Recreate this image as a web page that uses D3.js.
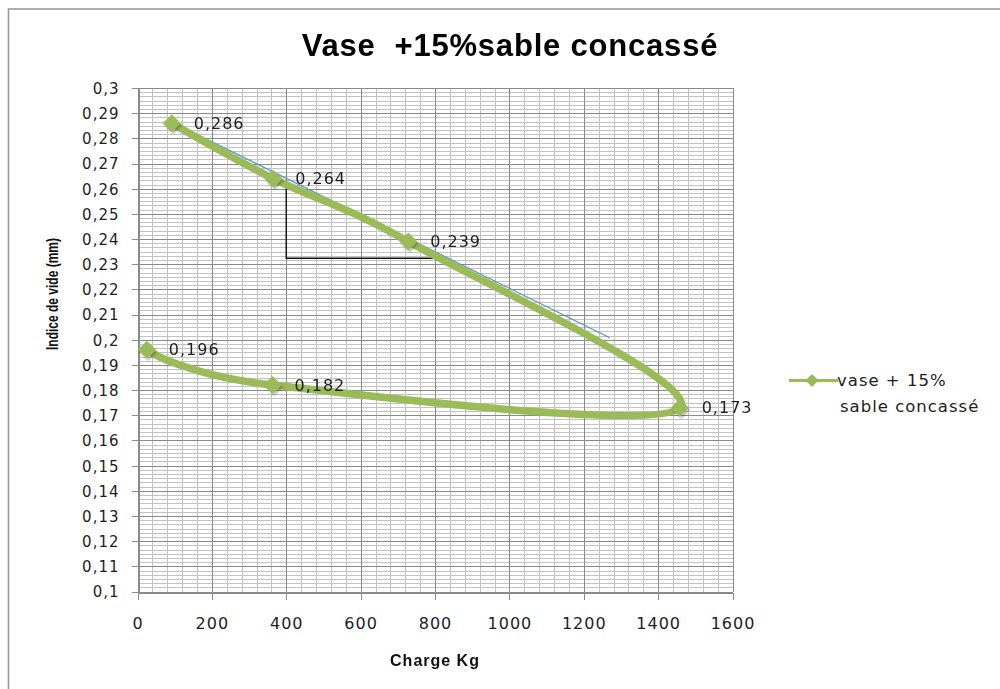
<!DOCTYPE html>
<html>
<head>
<meta charset="utf-8">
<script src="https://cdn.jsdelivr.net/npm/d3@7"></script>
<style>
  html, body { margin: 0; padding: 0; background: #fff; }
  svg { display: block; }
</style>
</head>
<body>
<svg id="chart" width="1000" height="689"></svg>
<script>
// Oedometer series: load (kg) and void index
const charge = [92, 365, 728, 1458, 363, 25];
const indice = [0.286, 0.264, 0.239, 0.173, 0.182, 0.196];

// Axis tick values
const xTicks = [0, 200, 400, 600, 800, 1000, 1200, 1400, 1600];
const yTicks = [0.1, 0.11, 0.12, 0.13, 0.14, 0.15, 0.16, 0.17, 0.18, 0.19, 0.2,
                0.21, 0.22, 0.23, 0.24, 0.25, 0.26, 0.27, 0.28, 0.29, 0.3];

// Hand-drawn slope construction: straight fit and right triangle
const trendCharge = [92, 1270];
const trendIndice = [0.2865, 0.2008];
const slopeCharge = [400, 400, 800];
const slopeIndice = [0.2624, 0.2324, 0.2324];

const titleText = "Vase  +15%sable concassé";
const xTitle = "Charge Kg";
const yTitle = "Indice de vide (mm)";
const legendLines = ["vase + 15%", "sable concassé"];

const green = "#9bbb59";

const svg = d3.select("#chart");
const W = 1000, H = 689;
const plot = { left: 137.5, right: 732.5, top: 88, bottom: 591.5 };

const x = d3.scaleLinear().domain([0, 1600]).range([plot.left, plot.right]);
const y = d3.scaleLinear().domain([0.1, 0.3]).range([plot.bottom, plot.top]);

const locale = d3.formatLocale({ decimal: ",", thousands: " ", grouping: [3], currency: ["", " €"] });
const fmtTick = locale.format(".2~f");
const fmtLabel = locale.format(".3f");

// drop shadow for markers
const defs = svg.append("defs");
const shadow = defs.append("filter").attr("id", "mk-shadow")
  .attr("x", "-50%").attr("y", "-50%").attr("width", "200%").attr("height", "200%");
shadow.append("feDropShadow").attr("dx", 1.5).attr("dy", 2).attr("stdDeviation", 1.2)
  .attr("flood-color", "#000").attr("flood-opacity", 0.28);

// white background and chart frame
svg.append("rect").attr("width", W).attr("height", H).attr("fill", "#fff");
svg.append("rect").attr("x", 8.5).attr("y", 9).attr("width", 1010).attr("height", 700)
  .attr("fill", "none").attr("stroke", "#9a9a9a").attr("stroke-width", 1.6);

// grid: minor lines then major lines
const grid = svg.append("g").attr("shape-rendering", "crispEdges");
const xMinor = d3.range(0, 1601, 40);
const yMinor = d3.range(0, 121).map(i => 0.1 + i * (0.2 / 120));

grid.selectAll("line.hminor").data(yMinor).join("line")
  .attr("class", "hminor")
  .attr("x1", plot.left).attr("x2", plot.right)
  .attr("y1", d => Math.round(y(d)) + 0.5).attr("y2", d => Math.round(y(d)) + 0.5)
  .attr("stroke", "#c2c2c2").attr("stroke-width", 1);
grid.selectAll("line.vminor").data(xMinor).join("line")
  .attr("class", "vminor")
  .attr("y1", plot.top).attr("y2", plot.bottom)
  .attr("x1", d => Math.round(x(d)) + 0.5).attr("x2", d => Math.round(x(d)) + 0.5)
  .attr("stroke", "#c2c2c2").attr("stroke-width", 1);
grid.selectAll("line.hmajor").data(yTicks).join("line")
  .attr("class", "hmajor")
  .attr("x1", plot.left).attr("x2", plot.right)
  .attr("y1", d => Math.round(y(d)) + 0.5).attr("y2", d => Math.round(y(d)) + 0.5)
  .attr("stroke", "#8a8a8a").attr("stroke-width", 1);
grid.selectAll("line.vmajor").data(xTicks).join("line")
  .attr("class", "vmajor")
  .attr("y1", plot.top).attr("y2", plot.bottom)
  .attr("x1", d => Math.round(x(d)) + 0.5).attr("x2", d => Math.round(x(d)) + 0.5)
  .attr("stroke", "#8a8a8a").attr("stroke-width", 1);

// axes
const yAxis = svg.append("g")
  .attr("transform", `translate(${Math.round(plot.left) + 0.5},0)`)
  .call(d3.axisLeft(y).tickValues(yTicks).tickFormat(fmtTick).tickSize(7).tickPadding(12).tickSizeOuter(0));
const xAxis = svg.append("g")
  .attr("transform", `translate(0,${Math.round(plot.bottom) + 0.5})`)
  .call(d3.axisBottom(x).tickValues(xTicks).tickFormat(d => d).tickSize(7).tickPadding(18).tickSizeOuter(0));

[yAxis, xAxis].forEach(a => {
  a.select(".domain").attr("stroke", "#8a8a8a").attr("shape-rendering", "crispEdges");
  a.selectAll(".tick line").attr("stroke", "#8a8a8a").attr("shape-rendering", "crispEdges");
  a.selectAll(".tick text").attr("fill", "#1e1e1e")
    .style("font-family", "'DejaVu Sans', Verdana, sans-serif")
    .style("letter-spacing", "1px");
});
yAxis.selectAll(".tick text").style("font-size", "15px").attr("dy", "0.36em");
xAxis.selectAll(".tick text").style("font-size", "16px");

// slope construction lines
const lineGen = d3.line().x(d => x(d[0])).y(d => y(d[1]));
svg.append("path")
  .attr("d", lineGen(d3.zip(trendCharge, trendIndice)))
  .attr("fill", "none").attr("stroke", "#5b8ed6").attr("stroke-width", 1.2);
svg.append("path")
  .attr("d", lineGen(d3.zip(slopeCharge, slopeIndice)))
  .attr("fill", "none").attr("stroke", "#111").attr("stroke-width", 1.4);

// smoothed series line
const pts = d3.zip(charge, indice);
const smooth = d3.line().x(d => x(d[0])).y(d => y(d[1])).curve(d3.curveCardinal.tension(0));
svg.append("path")
  .attr("d", smooth(pts))
  .attr("fill", "none").attr("stroke", green).attr("stroke-width", 7.5)
  .attr("stroke-linejoin", "round").attr("stroke-linecap", "round");

// diamond markers
const diamond = r => `M0,${-r}L${r},0L0,${r}L${-r},0Z`;
svg.append("g").attr("filter", "url(#mk-shadow)")
  .selectAll("path").data(pts).join("path")
  .attr("transform", d => `translate(${x(d[0])},${y(d[1])})`)
  .attr("d", diamond(9))
  .attr("fill", green);

// value labels
svg.append("g").selectAll("text").data(pts).join("text")
  .attr("x", d => x(d[0]) + 22)
  .attr("y", d => y(d[1]) + 5.5)
  .attr("fill", "#1e1e1e")
  .style("font-family", "'DejaVu Sans', Verdana, sans-serif")
  .style("font-size", "16px")
  .style("letter-spacing", "1px")
  .text(d => fmtLabel(d[1]));

// title
svg.append("text")
  .attr("x", 510).attr("y", 56)
  .attr("text-anchor", "middle")
  .attr("fill", "#000")
  .style("font-family", "'Liberation Sans', Arial, sans-serif")
  .style("font-weight", "bold")
  .style("font-size", "31px")
  .style("letter-spacing", "0.8px")
  .style("white-space", "pre")
  .text(titleText);

// axis titles
svg.append("text")
  .attr("x", 435).attr("y", 666)
  .attr("text-anchor", "middle")
  .attr("fill", "#111")
  .style("font-family", "'Liberation Sans', Arial, sans-serif")
  .style("font-weight", "bold")
  .style("font-size", "16px")
  .style("letter-spacing", "1px")
  .text(xTitle);

svg.append("text")
  .attr("transform", "translate(58,294) rotate(-90)")
  .attr("text-anchor", "middle")
  .attr("fill", "#111")
  .attr("textLength", 112)
  .attr("lengthAdjust", "spacingAndGlyphs")
  .style("font-family", "'Liberation Sans', Arial, sans-serif")
  .style("font-weight", "bold")
  .style("font-size", "17px")
  .text(yTitle);

// legend
const lg = svg.append("g");
lg.append("line").attr("x1", 789).attr("x2", 838).attr("y1", 380.5).attr("y2", 380.5)
  .attr("stroke", green).attr("stroke-width", 3);
lg.append("path").attr("transform", "translate(812,380.5)").attr("d", diamond(6.5)).attr("fill", green);
lg.selectAll("text").data(legendLines).join("text")
  .attr("x", (d, i) => i === 0 ? 837 : 840)
  .attr("y", (d, i) => 386 + i * 26)
  .attr("fill", "#1e1e1e")
  .style("font-family", "'DejaVu Sans', Verdana, sans-serif")
  .style("font-size", "16.5px")
  .style("letter-spacing", "1px")
  .text(d => d);
</script>
</body>
</html>
